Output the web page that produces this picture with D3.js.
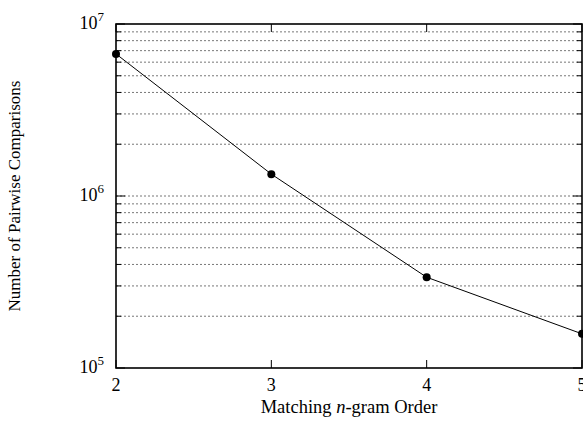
<!DOCTYPE html>
<html>
<head>
<meta charset="utf-8">
<script src="https://cdnjs.cloudflare.com/ajax/libs/d3/7.8.5/d3.min.js"></script>
<style>
  body { margin: 0; background: #fff; }
  svg { display: block; font-family: "Liberation Serif", "DejaVu Serif", serif; }
</style>
</head>
<body>
<div id="viz"></div>
<script>
// data
const orders = [2, 3, 4, 5];
const comparisons = [6.7e6, 1.34e6, 3.37e5, 1.58e5];
const xTicks = [2, 3, 4, 5];
const yMajor = [1e5, 1e6, 1e7];
const yExp = [5, 6, 7];

const W = 583, H = 421;
const margin = {top: 24, right: 1, bottom: 53, left: 116};

const svg = d3.select("#viz").append("svg")
  .attr("width", W).attr("height", H);

const x = d3.scaleLinear().domain([2, 5]).range([margin.left, W - margin.right]);
const y = d3.scaleLog().domain([1e5, 1e7]).range([H - margin.bottom, margin.top]);

// minor values 2..9 in each decade
const yMinor = [];
yMajor.slice(0, -1).forEach(d => { for (let k = 2; k <= 9; k++) yMinor.push(d * k); });
const yAll = yMinor.concat(yMajor.slice(1, -1));

// grid
svg.append("g").selectAll("line").data(yAll).join("line")
  .attr("x1", x(2)).attr("x2", x(5))
  .attr("y1", d => y(d)).attr("y2", d => y(d))
  .attr("stroke", "#777").attr("stroke-width", 1)
  .attr("stroke-dasharray", "2,2");

// ticks, inward on both sides
const tk = svg.append("g").attr("stroke", "#000").attr("stroke-width", 1);
yMinor.forEach(d => {
  tk.append("line").attr("x1", x(2)).attr("x2", x(2) + 5).attr("y1", y(d)).attr("y2", y(d));
  tk.append("line").attr("x1", x(5)).attr("x2", x(5) - 5).attr("y1", y(d)).attr("y2", y(d));
});
yMajor.forEach(d => {
  tk.append("line").attr("x1", x(2)).attr("x2", x(2) + 9).attr("y1", y(d)).attr("y2", y(d));
  tk.append("line").attr("x1", x(5)).attr("x2", x(5) - 9).attr("y1", y(d)).attr("y2", y(d));
});
xTicks.forEach(d => {
  tk.append("line").attr("x1", x(d)).attr("x2", x(d)).attr("y1", y(1e5)).attr("y2", y(1e5) - 8);
  tk.append("line").attr("x1", x(d)).attr("x2", x(d)).attr("y1", y(1e7)).attr("y2", y(1e7) + 8);
});

// frame
svg.append("rect")
  .attr("x", x(2)).attr("y", y(1e7))
  .attr("width", x(5) - x(2)).attr("height", y(1e5) - y(1e7))
  .attr("fill", "none").attr("stroke", "#000").attr("stroke-width", 1.6);

// y labels 10^n
yMajor.forEach((d, i) => {
  const t = svg.append("text")
    .attr("x", x(2) - 12).attr("y", y(d) + 5)
    .attr("text-anchor", "end").attr("font-size", 18);
  t.append("tspan").text("10");
  t.append("tspan").attr("dy", -8).attr("font-size", 13).text(yExp[i]);
});

// x labels
svg.append("g").selectAll("text").data(xTicks).join("text")
  .attr("x", d => x(d)).attr("y", y(1e5) + 23)
  .attr("text-anchor", "middle").attr("font-size", 18)
  .text(d => d);

// axis titles
const xt = svg.append("text")
  .attr("x", (x(2) + x(5)) / 2).attr("y", 413)
  .attr("text-anchor", "middle").attr("font-size", 18.5);
xt.append("tspan").text("Matching ");
xt.append("tspan").attr("font-style", "italic").text("n");
xt.append("tspan").text("-gram Order");

svg.append("text")
  .attr("transform", `translate(20,${(y(1e5) + y(1e7)) / 2}) rotate(-90)`)
  .attr("text-anchor", "middle").attr("font-size", 17)
  .text("Number of Pairwise Comparisons");

// series
const pts = orders.map((d, i) => [d, comparisons[i]]);
svg.append("path").datum(pts)
  .attr("fill", "none").attr("stroke", "#000").attr("stroke-width", 1)
  .attr("d", d3.line().x(d => x(d[0])).y(d => y(d[1])));
svg.append("g").selectAll("circle").data(pts).join("circle")
  .attr("cx", d => x(d[0])).attr("cy", d => y(d[1])).attr("r", 4)
  .attr("fill", "#000");
</script>
</body>
</html>
